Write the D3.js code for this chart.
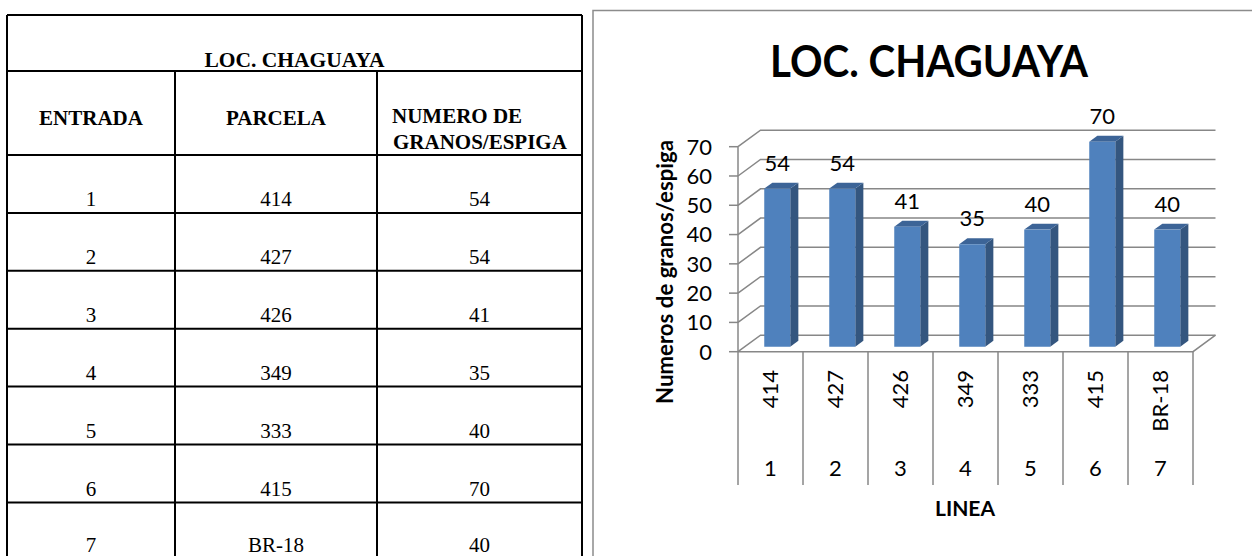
<!DOCTYPE html>
<html>
<head>
<meta charset="utf-8">
<script src="https://cdn.jsdelivr.net/npm/d3@7"></script>
<style>
  body { margin: 0; background: #fff; }
  svg { display: block; }
  .cell { font-family: "Liberation Serif", "Times New Roman", serif; fill: #000; }
  .ch { font-family: Lato, "Open Sans", sans-serif; fill: #000; }
</style>
</head>
<body>
<div id="chart"></div>
<script>
// data
var entradas = ["1", "2", "3", "4", "5", "6", "7"];
var parcelas = ["414", "427", "426", "349", "333", "415", "BR-18"];
var granos = [54, 54, 41, 35, 40, 70, 40];
var yTicks = [0, 10, 20, 30, 40, 50, 60, 70];
var headers = ["ENTRADA", "PARCELA", "NUMERO DE GRANOS/ESPIGA"];
var titulo = "LOC. CHAGUAYA";

var W = 1252, H = 556;
var svg = d3.select("#chart").append("svg")
    .attr("width", W)
    .attr("height", H);

/////////////////// table (left) ///////////////////
var tbl = svg.append("g");
var colX = [7, 175, 377, 582];
var tTop = 15, tTitle = 71, tHead = 155;
var rowY = d3.scaleLinear().domain([0, 7]).range([tHead, tHead + 7*57.9]);

var tline = function(x1, y1, x2, y2) {
    tbl.append("line")
        .attr("x1", x1).attr("y1", y1)
        .attr("x2", x2).attr("y2", y2)
        .attr("stroke", "#000")
        .attr("stroke-width", 2);
};

tline(colX[0], tTop, colX[3], tTop);
tline(colX[0], tTitle, colX[3], tTitle);
tline(colX[0], tHead, colX[3], tHead);
d3.range(1, 8).forEach(function(i) { tline(colX[0], rowY(i), colX[3], rowY(i)); });
tline(colX[0], tTop, colX[0], H + 5);
tline(colX[3], tTop, colX[3], H + 5);
tline(colX[1], tTitle, colX[1], H + 5);
tline(colX[2], tTitle, colX[2], H + 5);

tbl.append("text")
    .attr("class", "cell")
    .attr("x", (colX[0] + colX[3])/2)
    .attr("y", 67)
    .attr("text-anchor", "middle")
    .attr("font-weight", "bold")
    .attr("font-size", 20)
    .attr("textLength", 180)
    .attr("lengthAdjust", "spacingAndGlyphs")
    .text(titulo);

tbl.append("text").attr("class", "cell")
    .attr("x", (colX[0] + colX[1])/2).attr("y", 125)
    .attr("text-anchor", "middle").attr("font-weight", "bold").attr("font-size", 21)
    .text(headers[0]);
tbl.append("text").attr("class", "cell")
    .attr("x", (colX[1] + colX[2])/2).attr("y", 125)
    .attr("text-anchor", "middle").attr("font-weight", "bold").attr("font-size", 21)
    .text(headers[1]);
var h3 = tbl.append("text").attr("class", "cell")
    .attr("x", 392).attr("y", 123)
    .attr("font-weight", "bold").attr("font-size", 21);
h3.append("tspan").attr("x", 392).text("NUMERO DE");
h3.append("tspan").attr("x", 393).attr("dy", 26).text("GRANOS/ESPIGA");

var cols = [entradas, parcelas, granos];
cols.forEach(function(arr, c) {
    tbl.selectAll(null)
        .data(arr)
        .enter().append("text")
        .attr("class", "cell")
        .attr("x", (colX[c] + colX[c+1])/2)
        .attr("y", function(d, i) { return Math.min(rowY(i + 1) - 6.5, H - 4); })
        .attr("text-anchor", "middle")
        .attr("font-size", 21)
        .text(function(d) { return d; });
});

/////////////////// chart (right) ///////////////////
svg.append("rect")
    .attr("x", 593)
    .attr("y", 10.5)
    .attr("width", W)
    .attr("height", H)
    .attr("fill", "none")
    .attr("stroke", "#8c8c8c")
    .attr("stroke-width", 1.5);

var g = svg.append("g");

var x = d3.scaleBand().domain(entradas).range([738, 1193]);
var y = d3.scaleLinear().domain([0, 70]).range([351.7, 146.7]);
var DX = 22.5, DY = -16.5;      // full depth of floor
var dFront = 0.3, dBack = 0.66; // bar depth position
var barW = 26;
var grid = "#878787";
var fs = 22;

// back wall gridlines + side wall diagonals
g.selectAll(".grid")
    .data(yTicks)
    .enter().append("polyline")
    .attr("points", function(v) {
        var p0 = [x.range()[0], y(v)];
        var p1 = [x.range()[0] + DX, y(v) + DY];
        var p2 = [x.range()[1] + DX, y(v) + DY];
        return [p0, p1, p2].join(" ");
    })
    .attr("fill", "none")
    .attr("stroke", grid)
    .attr("stroke-width", 1.5);

// floor front + right edge
g.append("polyline")
    .attr("points", [[x.range()[0], y(0)], [x.range()[1], y(0)], [x.range()[1] + DX, y(0) + DY]].join(" "))
    .attr("fill", "none")
    .attr("stroke", grid)
    .attr("stroke-width", 1.5);

// value axis
g.append("line")
    .attr("x1", x.range()[0]).attr("x2", x.range()[0])
    .attr("y1", y(0)).attr("y2", y(70))
    .attr("stroke", grid).attr("stroke-width", 1.5);
g.selectAll(".tick")
    .data(yTicks)
    .enter().append("line")
    .attr("x1", x.range()[0] - 9).attr("x2", x.range()[0])
    .attr("y1", function(v) { return y(v); })
    .attr("y2", function(v) { return y(v); })
    .attr("stroke", grid).attr("stroke-width", 1.5);
g.selectAll(".ytl")
    .data(yTicks)
    .enter().append("text")
    .attr("class", "ch")
    .attr("x", 712)
    .attr("y", function(v) { return y(v); })
    .attr("dy", "0.36em")
    .attr("text-anchor", "end")
    .attr("font-size", fs)
    .text(function(v) { return v; });

// category separators below floor
var seps = entradas.map(function(e) { return x(e); }).concat([x.range()[1]]);
g.selectAll(".sep")
    .data(seps)
    .enter().append("line")
    .attr("x1", function(d) { return d; }).attr("x2", function(d) { return d; })
    .attr("y1", y(0)).attr("y2", 485)
    .attr("stroke", grid).attr("stroke-width", 1.5);

// bars
var bars = g.selectAll(".bar")
    .data(granos)
    .enter().append("g");

var bx = function(i) { return x(entradas[i]) + x.bandwidth()/2 - barW/2 + dFront*DX; };
var by0 = y(0) + dFront*DY;
var ddx = (dBack - dFront)*DX, ddy = (dBack - dFront)*DY;
var yv = function(v) { return by0 - (y(0) - y(v)); };

bars.append("polygon") // side
    .attr("points", function(v, i) {
        var xr = bx(i) + barW;
        return [[xr, by0], [xr + ddx, by0 + ddy], [xr + ddx, yv(v) + ddy], [xr, yv(v)]].join(" ");
    })
    .attr("fill", "#34567f");
bars.append("polygon") // top
    .attr("points", function(v, i) {
        var xl = bx(i);
        return [[xl, yv(v)], [xl + barW, yv(v)], [xl + barW + ddx, yv(v) + ddy], [xl + ddx, yv(v) + ddy]].join(" ");
    })
    .attr("fill", "#3c6497");
bars.append("rect") // front
    .attr("x", function(v, i) { return bx(i); })
    .attr("y", function(v) { return yv(v); })
    .attr("width", barW)
    .attr("height", function(v) { return by0 - yv(v); })
    .attr("fill", "#4f81bd");

bars.append("text")
    .attr("class", "ch")
    .attr("x", function(v, i) { return bx(i) + barW/2; })
    .attr("y", function(v) { return yv(v) - 18; })
    .attr("text-anchor", "middle")
    .attr("font-size", fs)
    .text(function(v) { return v; });

// category labels
g.selectAll(".parc")
    .data(parcelas)
    .enter().append("text")
    .attr("class", "ch")
    .attr("transform", function(d, i) {
        return "translate(" + (x(entradas[i]) + x.bandwidth()/2) + ",370) rotate(-90)";
    })
    .attr("text-anchor", "end")
    .attr("dy", "0.36em")
    .attr("font-size", fs)
    .text(function(d) { return d; });

g.selectAll(".entr")
    .data(entradas)
    .enter().append("text")
    .attr("class", "ch")
    .attr("x", function(d) { return x(d) + x.bandwidth()/2; })
    .attr("y", 476)
    .attr("text-anchor", "middle")
    .attr("font-size", fs)
    .text(function(d) { return d; });

// titles
svg.append("text")
    .attr("class", "ch")
    .attr("x", 929)
    .attr("y", 77)
    .attr("text-anchor", "middle")
    .attr("font-weight", "bold")
    .attr("font-size", 43)
    .attr("textLength", 318)
    .attr("lengthAdjust", "spacingAndGlyphs")
    .text(titulo);

svg.append("text")
    .attr("class", "ch")
    .attr("transform", "translate(673,272) rotate(-90)")
    .attr("text-anchor", "middle")
    .attr("font-weight", "bold")
    .attr("font-size", 23)
    .attr("textLength", 264)
    .attr("lengthAdjust", "spacingAndGlyphs")
    .text("Numeros de granos/espiga");

svg.append("text")
    .attr("class", "ch")
    .attr("x", 965)
    .attr("y", 516)
    .attr("text-anchor", "middle")
    .attr("font-weight", "bold")
    .attr("font-size", 21)
    .text("LINEA");
</script>
</body>
</html>
